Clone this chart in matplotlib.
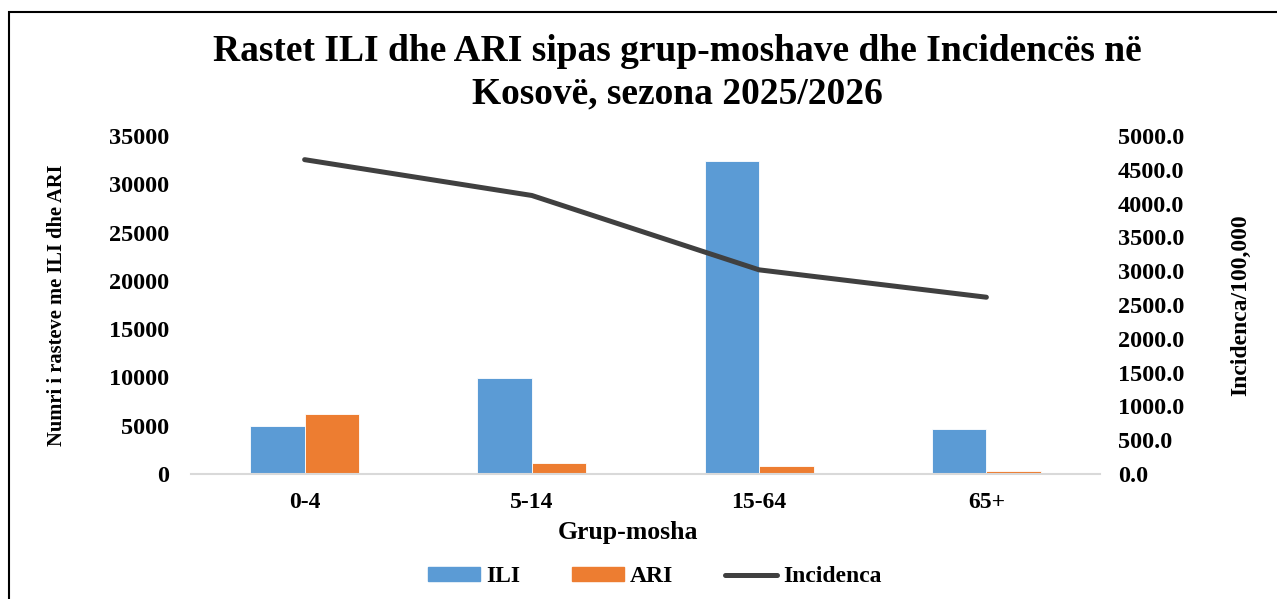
import matplotlib
matplotlib.use('Agg')
import matplotlib.pyplot as plt
import matplotlib.patches as mpatches
from matplotlib.lines import Line2D
import numpy as np

# Të dhënat
grupmoshat = ['0-4', '5-14', '15-64', '65+']
ili = [5000, 9900, 32450, 4620]
ari = [6220, 1140, 870, 360]
incidenca = [4650, 4120, 3020, 2615]

blu = '#5B9BD5'
portokalli = '#ED7D31'
gri = '#404040'

plt.rcParams['font.family'] = ['Liberation Serif', 'DejaVu Serif']
plt.rcParams['font.weight'] = 'bold'

fig = plt.figure(figsize=(12.77, 5.99), dpi=100)
ax = fig.add_axes([191 / 1277, 1 - 474 / 599, (1100 - 191) / 1277, (474 - 136) / 599])
ax2 = ax.twinx()

x = np.arange(len(grupmoshat))
w = 0.24
ax.bar(x - w / 2, ili, width=w, color=blu, edgecolor='white', linewidth=0.6, label='ILI', zorder=2)
ax.bar(x + w / 2, ari, width=w, color=portokalli, edgecolor='white', linewidth=0.6, label='ARI', zorder=2)
ax2.plot(x, incidenca, color=gri, linewidth=3.6, solid_capstyle='round', solid_joinstyle='round')

ax.set_xlim(-0.5, 3.5)
ax.set_ylim(0, 35000)
ax2.set_ylim(0, 5000)
ax.set_yticks(range(0, 35001, 5000))
ax2.set_yticks(range(0, 5001, 500))
ax2.set_yticklabels([f'{v:.1f}' for v in range(0, 5001, 500)])
ax.set_xticks(x)
ax.set_xticklabels(grupmoshat)

for a in (ax, ax2):
    for s in a.spines.values():
        s.set_visible(False)
    a.tick_params(length=0, labelsize=17.5)
ax.spines['bottom'].set_visible(True)
ax.spines['bottom'].set_color('#D9D9D9')
ax.spines['bottom'].set_linewidth(1.5)
ax.tick_params(axis='y', pad=16)
ax.tick_params(axis='x', pad=13, labelsize=17)
ax2.tick_params(axis='y', pad=13)

ax.set_xlabel('Grup-mosha', fontsize=18.5, fontweight='bold')
ax.xaxis.set_label_coords((628 - 191) / 909, -(533 - 474) / 338, transform=ax.transAxes)
ax.xaxis.label.set_va('center')
ax.set_ylabel('Numri i rasteve me ILI dhe ARI', fontsize=14.8, fontweight='bold', labelpad=30)
ax2.set_ylabel('Incidenca/100,000', fontsize=17, fontweight='bold', labelpad=33)

fig.suptitle('Rastet ILI dhe ARI sipas grup-moshave dhe Incidencës në\nKosovë, sezona 2025/2026',
             x=677 / 1277, y=1 - 34 / 599, fontsize=27, fontweight='bold', linespacing=1.27)

# Legjenda
h = [mpatches.Patch(color=blu, label='ILI'),
     mpatches.Patch(color=portokalli, label='ARI'),
     Line2D([0], [0], color=gri, linewidth=3.6, solid_capstyle='round', label='Incidenca')]
fig.legend(handles=h, loc='center', bbox_to_anchor=(655 / 1277, 1 - 577 / 599), ncol=3,
           frameon=False, fontsize=17, handlelength=2.2, handleheight=0.5,
           columnspacing=2.2, handletextpad=0.25, borderpad=0, borderaxespad=0)

# Korniza
fig.add_artist(mpatches.Rectangle((9 / 1277, -0.1), 1.2, 1 - 12 / 599 + 0.1,
                                  transform=fig.transFigure, fill=False,
                                  edgecolor='black', linewidth=1.5))

fig.savefig('out.png', dpi=100)
